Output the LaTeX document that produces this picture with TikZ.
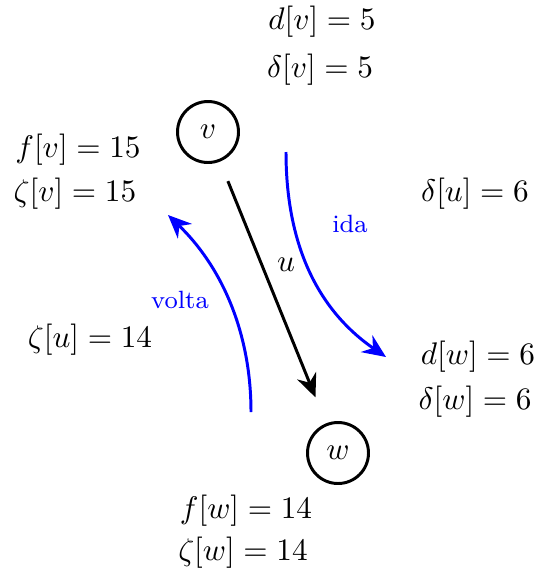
\documentclass[tikz,border=0pt]{standalone}
\usetikzlibrary{arrows.meta}
\begin{document}
\begin{tikzpicture}[x=0.32pt,y=-0.32pt,
  vert/.style={circle,draw,line width=0.95pt,minimum size=61*0.32pt,inner sep=0pt},
  lbl/.style={inner sep=0pt},
  edgeline/.style={line width=0.95pt,-{Stealth[length=7.5pt,width=6.5pt]}},
  walk/.style={line width=0.95pt,blue,-{Stealth[length=7.5pt,width=6.5pt]}},
  walklbl/.style={blue,font=\footnotesize,inner sep=0pt}]
\useasboundingbox (0,0) rectangle (535,573);
\node[vert] (v) at (208,132) {$v$};
\node[vert] (w) at (338,453) {$w$};
\draw[edgeline,shorten <=21*0.32pt,shorten >=28*0.32pt] (v) -- (w);
\node[lbl] (ul) at (286,265) {$u$};
\coordinate (i1) at (286,152);
\coordinate (i2) at (386,357);
\draw[walk] (i1) .. controls (286,255) and (325,315) .. (i2);
\node[walklbl] (ida) at (350,224) {ida};
\coordinate (o1) at (251,412);
\coordinate (o2) at (168,215);
\draw[walk] (o1) .. controls (251,330) and (220,265) .. (o2);
\node[walklbl] (volta) at (180,300) {volta};
\node[lbl] (dv) at (322,22) {$d[v]=5$};
\node[lbl] (deltav) at (320,70) {$\delta[v]=5$};
\node[lbl] (fv) at (78,150) {$f[v]=15$};
\node[lbl] (zv) at (75,194) {$\zeta[v]=15$};
\node[lbl] (deltau) at (475,194) {$\delta[u]=6$};
\node[lbl] (zu) at (90,340) {$\zeta[u]=14$};
\node[lbl] (dw) at (478,357) {$d[w]=6$};
\node[lbl] (deltaw) at (475,402) {$\delta[w]=6$};
\node[lbl] (fw) at (246,511) {$f[w]=14$};
\node[lbl] (zw) at (243,553) {$\zeta[w]=14$};
\end{tikzpicture}
\end{document}
